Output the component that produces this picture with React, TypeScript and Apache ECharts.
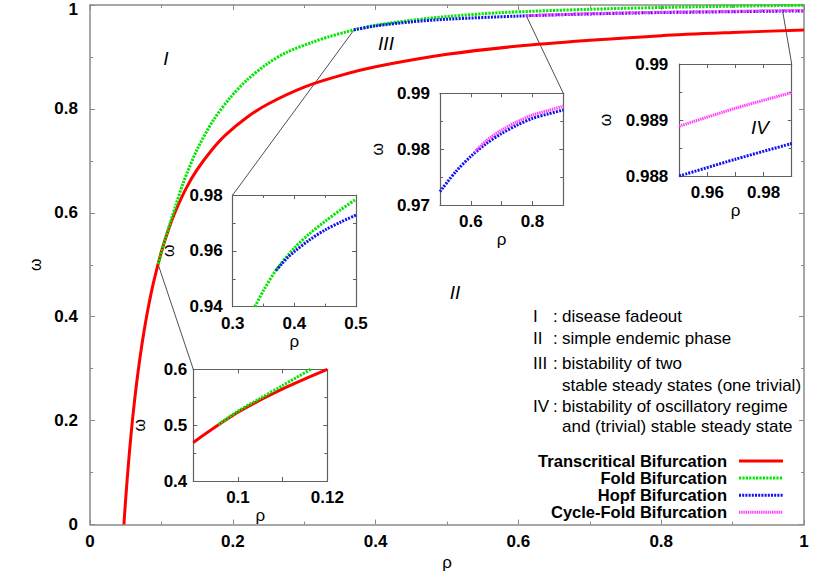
import React, { useEffect, useRef } from "react";
import * as echarts from "echarts";

const FONT = "'Liberation Sans', Arial, Helvetica, sans-serif";

// ---------- main panel data (rho, omega) ----------
const transcritical: [number, number][] = [
  [0.0475, 0], [0.05, 0.05], [0.055, 0.136], [0.06, 0.208], [0.065, 0.269], [0.07, 0.321],
  [0.075, 0.366], [0.08, 0.406], [0.085, 0.441], [0.09, 0.472], [0.1, 0.525], [0.11, 0.568],
  [0.12, 0.604], [0.135, 0.648], [0.15, 0.683], [0.17, 0.72], [0.19, 0.75], [0.22, 0.784],
  [0.25, 0.81], [0.3, 0.842], [0.35, 0.864], [0.4, 0.881], [0.5, 0.905], [0.6, 0.921],
  [0.7, 0.932], [0.8, 0.941], [0.9, 0.947], [1, 0.952],
];
const fold: [number, number][] = [
  [0.0956, 0.501], [0.1, 0.524], [0.105, 0.548], [0.112, 0.579], [0.12, 0.614], [0.1307, 0.658],
  [0.1494, 0.72], [0.1727, 0.778], [0.196, 0.821], [0.2194, 0.855], [0.2475, 0.886],
  [0.2755, 0.909], [0.3128, 0.929], [0.336, 0.9395], [0.3595, 0.9485], [0.37, 0.9522],
  [0.4, 0.961], [0.45, 0.9705], [0.5, 0.9778], [0.574, 0.9852], [0.7, 0.9918], [0.854, 0.9967],
  [1, 0.9995],
];
const hopf: [number, number][] = [
  [0.3697, 0.9522], [0.4, 0.9597], [0.45, 0.9675], [0.5, 0.9726], [0.6, 0.9787], [0.7, 0.9828],
  [0.8, 0.9855], [0.9, 0.9871], [0.95, 0.988], [0.99, 0.98855], [1, 0.9887],
];
const cycleFold: [number, number][] = [
  [0.611, 0.9794], [0.7, 0.9834], [0.8, 0.9861], [0.9, 0.9878], [0.95, 0.98889], [0.99, 0.98945],
  [1, 0.9896],
];

// ---------- inset data ----------
const inset1Transcritical: [number, number][] = [
  [0.09, 0.469], [0.095, 0.497], [0.1, 0.523], [0.105, 0.545], [0.11, 0.565], [0.115, 0.583], [0.12, 0.6],
];
const inset1Fold: [number, number][] = [
  [0.0956, 0.501], [0.1, 0.525], [0.105, 0.548], [0.11, 0.571], [0.1163, 0.6],
];
const inset2Fold: [number, number][] = [
  [0.336, 0.94], [0.35, 0.9458], [0.37, 0.953], [0.4, 0.961], [0.425, 0.9662], [0.45, 0.9706],
  [0.475, 0.9747], [0.5, 0.9785],
];
const inset2Hopf: [number, number][] = [
  [0.3703, 0.953], [0.38, 0.9555], [0.39, 0.9578], [0.4, 0.9597], [0.425, 0.964], [0.45, 0.9675],
  [0.475, 0.9703], [0.5, 0.9728],
];
const inset3Hopf: [number, number][] = [
  [0.5, 0.9724], [0.55, 0.9759], [0.6, 0.9787], [0.65, 0.981], [0.7, 0.9828], [0.75, 0.9843],
  [0.8, 0.9855], [0.85, 0.9863], [0.9, 0.987],
];
const inset3CycleFold: [number, number][] = [
  [0.611, 0.9794], [0.65, 0.9815], [0.7, 0.9834], [0.75, 0.9849], [0.8, 0.9861], [0.85, 0.9869],
  [0.9, 0.9877],
];
const inset4Hopf: [number, number][] = [[0.95, 0.988], [0.97, 0.9883], [0.99, 0.98858]];
const inset4CycleFold: [number, number][] = [[0.95, 0.98889], [0.97, 0.98921], [0.99, 0.98949]];

// axis ranges: [min, max, interval]
const mainX = [0, 1, 0.2];
const mainY = [0, 1, 0.2];
const inset1X = [0.09, 0.12, 0.01];
const inset1Y = [0.4, 0.6, 0.1];
const inset2X = [0.3, 0.5, 0.1];
const inset2Y = [0.94, 0.98, 0.02];
const inset3X = [0.5, 0.9, 0.1];
const inset3Y = [0.97, 0.99, 0.01];
const inset4X = [0.95, 0.99, 0.01];
const inset4Y = [0.988, 0.99, 0.001];

// zoom connectors: point on main panel -> inset corner (inset data coords)
const linkMain: [number, number][] = [[0.0956, 0.5], [0.3697, 0.952], [0.611, 0.9794], [0.97, 0.989]];
const linkInset: [number, number][] = [[0.09, 0.6], [0.3, 0.98], [0.9, 0.99], [0.99, 0.99]];

const legendNames = [
  "Transcritical Bifurcation",
  "Fold Bifurcation",
  "Hopf Bifurcation",
  "Cycle-Fold Bifurcation",
];
const regionNumerals = ["I", "II", "III", "", "IV", ""];
const regionTexts = [
  "disease fadeout",
  "simple endemic phase",
  "bistability of two",
  "stable steady states (one trivial)",
  "bistability of oscillatory regime",
  "and (trivial) stable steady state",
];
const regionLabels = ["I", "II", "III", "IV"];

const COLORS = ["#ff0000", "#00e800", "#1010f0", "#ff3cff"];
const DASHES: (string | number[])[] = ["solid", [2.2, 1.2], [2, 1.2], [1.4, 0.8]];

const grids = [
  { left: 90, top: 5, width: 714, height: 519.5 },
  { left: 193.3, top: 369.3, width: 134, height: 111.7 },
  { left: 232.7, top: 195, width: 123.3, height: 111.7 },
  { left: 440, top: 93.3, width: 123.3, height: 111.7 },
  { left: 679.3, top: 64, width: 112.4, height: 112 },
];

const fmt = (v: number) => String(Math.round(v * 1e6) / 1e6);

type Spec = {
  x: number[];
  y: number[];
  xMinor: number;
  yMinor: number;
  xShow?: (v: number) => boolean;
  xNameGap: number;
  yNameGap: number;
  yMargin: number;
};

const specs: Spec[] = [
  { x: mainX, y: mainY, xMinor: 2, yMinor: 2, xNameGap: 23, yNameGap: 42, yMargin: 12 },
  { x: inset1X, y: inset1Y, xMinor: 0, yMinor: 2, xShow: (v) => Math.round(v * 100) % 2 === 0, xNameGap: 22, yNameGap: 46, yMargin: 6 },
  { x: inset2X, y: inset2Y, xMinor: 2, yMinor: 2, xNameGap: 21, yNameGap: 56, yMargin: 10 },
  { x: inset3X, y: inset3Y, xMinor: 0, yMinor: 2, xShow: (v) => Math.round(v * 10) % 2 === 0, xNameGap: 23, yNameGap: 55, yMargin: 10 },
  { x: inset4X, y: inset4Y, xMinor: 0, yMinor: 2, xShow: (v) => Math.round(v * 100) % 2 === 0, xNameGap: 25, yNameGap: 66, yMargin: 11 },
];

function buildOption() {
  const xAxis: any[] = [];
  const yAxis: any[] = [];
  specs.forEach((s, g) => {
    const isMain = g === 0;
    const lc = isMain ? "#8a8a8a" : "#606060";
    const base = (r: number[], minor: number) => ({
      type: "value",
      gridIndex: g,
      min: r[0],
      max: r[1],
      interval: r[2],
      axisLine: { show: true, onZero: false, lineStyle: { color: lc, width: isMain ? 1.5 : 1.2 } },
      axisTick: { show: true, inside: true, length: isMain ? 5 : 4, lineStyle: { color: lc, width: 1 } },
      minorTick: { show: minor > 0, splitNumber: minor || 2, length: 3, lineStyle: { color: lc, width: 1 } },
      splitLine: { show: false },
      minorSplitLine: { show: false },
    });
    const labelStyle = { fontFamily: FONT, fontWeight: "bold", fontSize: 17, color: "#000" };
    const nameStyle = { fontFamily: FONT, fontSize: 17, color: "#000" };
    xAxis.push({
      ...base(s.x, s.xMinor),
      position: "bottom",
      name: "ρ",
      nameLocation: "middle",
      nameGap: s.xNameGap,
      nameTextStyle: nameStyle,
      axisLabel: {
        ...labelStyle,
        margin: 8,
        showMinLabel: true,
        showMaxLabel: true,
        formatter: (v: number) => (s.xShow && !s.xShow(v) ? "" : fmt(v)),
      },
    });
    xAxis.push({ ...base(s.x, s.xMinor), position: "top", axisLabel: { show: false } });
    yAxis.push({
      ...base(s.y, s.yMinor),
      position: "left",
      name: "ω",
      nameLocation: "middle",
      nameGap: s.yNameGap,
      nameTextStyle: { ...nameStyle, fontSize: 16 },
      axisLabel: {
        ...labelStyle,
        margin: s.yMargin,
        showMinLabel: true,
        showMaxLabel: true,
        formatter: (v: number) => (isMain && v === s.y[1] ? `{t|${fmt(v)}}` : fmt(v)),
        rich: { t: { ...labelStyle, padding: [8, 0, 0, 0] } },
      },
    });
    yAxis.push({ ...base(s.y, s.yMinor), position: "right", axisLabel: { show: false } });
  });

  const line = (data: [number, number][], g: number, k: number, z: number) => ({
    type: "line",
    xAxisIndex: 2 * g,
    yAxisIndex: 2 * g,
    data,
    symbol: "none",
    showSymbol: false,
    smooth: 0.3,
    clip: true,
    silent: true,
    z,
    lineStyle: { color: COLORS[k], width: 3, type: DASHES[k], cap: "butt" },
  });

  const series = [
    line(transcritical, 0, 0, 2),
    line(fold, 0, 1, 3),
    line(hopf, 0, 2, 4),
    line(cycleFold, 0, 3, 5),
    line(inset1Transcritical, 1, 0, 2),
    line(inset1Fold, 1, 1, 3),
    line(inset2Fold, 2, 1, 3),
    line(inset2Hopf, 2, 2, 4),
    line(inset3Hopf, 3, 2, 4),
    line(inset3CycleFold, 3, 3, 5),
    line(inset4Hopf, 4, 2, 4),
    line(inset4CycleFold, 4, 3, 5),
  ];

  const graphic: any[] = [];
  const regionPos = [[166, 58], [455, 292], [386, 43], [760, 127]];
  regionLabels.forEach((t, i) => {
    graphic.push({
      type: "text",
      x: regionPos[i][0],
      y: regionPos[i][1],
      z: 10,
      style: { text: t, font: `italic 19px ${FONT}`, fill: "#000", align: "center", verticalAlign: "middle" },
    });
  });
  const rowY = [316.7, 338.3, 363.3, 385, 406, 426.7];
  regionTexts.forEach((t, i) => {
    if (regionNumerals[i]) {
      graphic.push({
        type: "text", x: 533, y: rowY[i], z: 10,
        style: { text: regionNumerals[i], font: `17px ${FONT}`, fill: "#000", align: "left", verticalAlign: "middle", lineHeight: 17 },
      });
      graphic.push({
        type: "text", x: 553, y: rowY[i], z: 10,
        style: { text: ":", font: `17px ${FONT}`, fill: "#000", align: "left", verticalAlign: "middle", lineHeight: 17 },
      });
    }
    graphic.push({
      type: "text", x: 562, y: rowY[i], z: 10,
      style: { text: t, font: `17px ${FONT}`, fill: "#000", align: "left", verticalAlign: "middle", lineHeight: 17 },
    });
  });
  const keyY = [461, 478.1, 495.2, 512.3];
  legendNames.forEach((n, i) => {
    graphic.push({
      type: "text", x: 727, y: keyY[i], z: 10,
      style: { text: n, font: `bold 16.5px ${FONT}`, fill: "#000", align: "right", verticalAlign: "middle", lineHeight: 15 },
    });
    graphic.push({
      type: "line", z: 10,
      shape: { x1: 739, y1: keyY[i], x2: 783, y2: keyY[i] },
      style: {
        stroke: COLORS[i], lineWidth: 3,
        lineDash: DASHES[i] === "solid" ? null : DASHES[i],
      },
    });
  });

  return {
    animation: false,
    backgroundColor: "#ffffff",
    grid: grids.map((g) => ({ ...g, containLabel: false, outerBoundsMode: "none" })),
    xAxis,
    yAxis,
    series,
    graphic,
  };
}

export default function App() {
  const ref = useRef<HTMLDivElement>(null);
  useEffect(() => {
    if (!ref.current) return;
    const chart = echarts.init(ref.current, undefined, { renderer: "svg" });
    const option: any = buildOption();
    chart.setOption(option);
    const links: any[] = [];
    linkMain.forEach((p, i) => {
      const a = chart.convertToPixel({ gridIndex: 0 } as any, p) as number[];
      const b = chart.convertToPixel({ gridIndex: i + 1 } as any, linkInset[i]) as number[];
      if (a && b) {
        links.push({
          type: "line", z: 1,
          shape: { x1: a[0], y1: a[1], x2: b[0], y2: b[1] },
          style: { stroke: "#222", lineWidth: 0.8 },
        });
      }
    });
    chart.setOption({ graphic: [...option.graphic, ...links] });
    return () => chart.dispose();
  }, []);
  return (
    <div
      ref={ref}
      style={{ position: "fixed", left: 0, top: 0, width: 830, height: 581, background: "#fff" }}
    />
  );
}
